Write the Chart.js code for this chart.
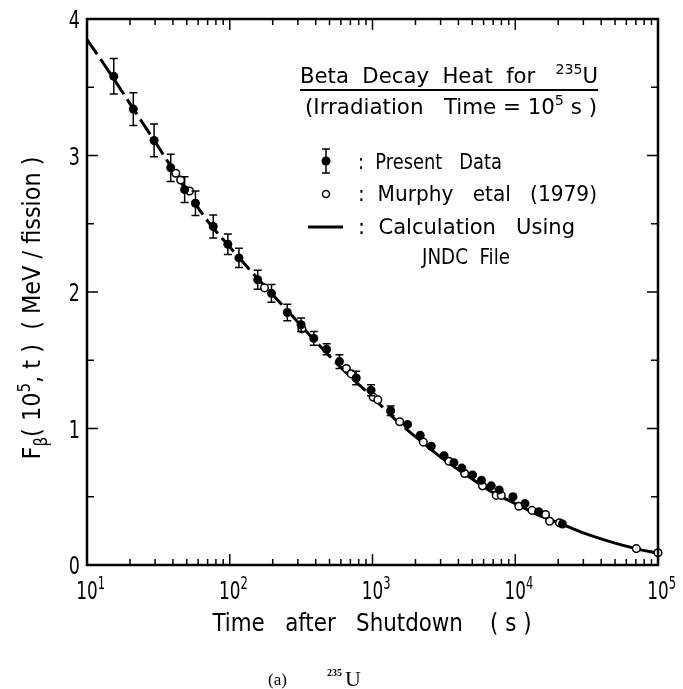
<!DOCTYPE html>
<html>
<head>
<meta charset="utf-8">
<script src="https://cdn.jsdelivr.net/npm/chart.js@4.4.1/dist/chart.umd.min.js"></script>
<style>
    html, body { margin: 0; padding: 0; background: #fff; }
    #wrap { width: 683px; height: 689px; }
</style>
</head>
<body>
<div id="wrap"><canvas id="heatChart" width="683" height="689"></canvas></div>
<script>
// Present data (filled circles with error bars)
const presentTime = [15.4, 21.1, 29.5, 38.6, 48.3, 57.5, 76.6, 97, 116, 157, 196, 253, 316, 388, 477, 587, 769, 977, 1340,
    1760, 2160, 2580, 3170, 3720, 4220, 5020, 5800, 6790, 7720, 9640, 11700, 14600, 21400];
const presentHeat = [3.58, 3.34, 3.11, 2.91, 2.75, 2.65, 2.48, 2.35, 2.25, 2.09, 1.99, 1.85, 1.76, 1.66, 1.58, 1.49, 1.37, 1.28, 1.13,
    1.03, 0.95, 0.87, 0.80, 0.75, 0.71, 0.66, 0.62, 0.58, 0.55, 0.50, 0.45, 0.39, 0.30];
const presentErr = [0.13, 0.12, 0.12, 0.10, 0.095, 0.09, 0.085, 0.075, 0.07, 0.07, 0.065, 0.06, 0.05, 0.05, 0.04, 0.05, 0.05, 0.04, 0.035,
    0, 0, 0, 0, 0, 0, 0, 0, 0, 0, 0, 0, 0, 0];

// Murphy et al (1979) (open circles)
const murphyTime = [41.9, 45.3, 52.3, 175, 320, 656, 710, 1010, 1090, 1550, 2270, 3430, 4420, 5890, 7360, 7980,
    10600, 13100, 16300, 17400, 20400, 70500, 100000];
const murphyHeat = [2.87, 2.82, 2.74, 2.03, 1.73, 1.44, 1.40, 1.23, 1.21, 1.05, 0.90, 0.76, 0.67, 0.58, 0.51, 0.51,
    0.43, 0.40, 0.37, 0.32, 0.31, 0.12, 0.09];

// Calculation using JNDC file
const calcTime = [10, 15, 20, 30, 50, 70, 100, 150, 200, 300, 500, 700, 1000, 1500, 2000, 3000, 5000, 7000,
    10000, 15000, 20000, 30000, 50000, 70000, 100000];
const calcHeat = [3.85, 3.58, 3.38, 3.10, 2.74, 2.52, 2.33, 2.12, 1.98, 1.78, 1.53, 1.38, 1.23, 1.05, 0.94, 0.79, 0.63, 0.53,
    0.45, 0.36, 0.31, 0.235, 0.16, 0.12, 0.085];

// Axis ticks
const xDecades = [10, 100, 1000, 10000, 100000];
const xExponents = ["1", "2", "3", "4", "5"];
const yTicks = [0, 1, 2, 3, 4];

const FONT = '"Liberation Sans Narrow", "DejaVu Sans Condensed", "DejaVu Sans", sans-serif';

// Draws text pieces ([text, "n" | "sup" | "sub"]); squeezed to a width or by a fixed factor
function drawRich(ctx, parts, x, y, size, opts = {}) {
    const family = opts.family || FONT;
    const fontFor = (kind) => `${kind === "n" ? size : Math.round(size * 0.66)}px ${family}`;
    let natural = 0;
    parts.forEach(([t, kind]) => {
        ctx.font = fontFor(kind);
        natural += ctx.measureText(t).width;
    });
    const k = opts.width ? opts.width / natural : (opts.scaleX || 1);
    ctx.save();
    ctx.translate(x, y);
    if (opts.rotate) ctx.rotate(opts.rotate);
    ctx.scale(k, 1);
    let cx = 0;
    if (opts.align === "center") cx = -natural / 2;
    if (opts.align === "right") cx = -natural;
    ctx.fillStyle = "#000";
    ctx.textAlign = "left";
    ctx.textBaseline = "alphabetic";
    parts.forEach(([t, kind]) => {
        ctx.font = fontFor(kind);
        const dy = kind === "sup" ? -size * 0.42 : kind === "sub" ? size * 0.28 : 0;
        ctx.fillText(t, cx, dy);
        cx += ctx.measureText(t).width;
    });
    ctx.restore();
}

const toPoints = (xs, ys) => xs.map((x, i) => ({ x: x, y: ys[i] }));

document.addEventListener("DOMContentLoaded", () => {
    const ctx = document.getElementById("heatChart").getContext("2d");

    // Frame, inward ticks, labels, error bars and the legend box
    const decorations = {
        id: "decorations",
        afterDatasetsDraw(chart) {
            const c = chart.ctx;
            const xs = chart.scales.x;
            const ys = chart.scales.y;
            c.save();
            c.strokeStyle = "#000";
            c.lineWidth = 1.5;
            presentTime.forEach((t, i) => {
                if (!presentErr[i]) return;
                const px = xs.getPixelForValue(t);
                const top = ys.getPixelForValue(presentHeat[i] + presentErr[i]);
                const bot = ys.getPixelForValue(presentHeat[i] - presentErr[i]);
                c.beginPath();
                c.moveTo(px, top); c.lineTo(px, bot);
                c.moveTo(px - 4, top); c.lineTo(px + 4, top);
                c.moveTo(px - 4, bot); c.lineTo(px + 4, bot);
                c.stroke();
            });
            c.restore();
        },
        afterDraw(chart) {
            const c = chart.ctx;
            const a = chart.chartArea;
            const xs = chart.scales.x;
            const ys = chart.scales.y;
            c.save();
            c.strokeStyle = "#000";
            c.fillStyle = "#000";

            // frame
            c.lineWidth = 2.5;
            c.strokeRect(a.left, a.top, a.right - a.left, a.bottom - a.top);

            // log ticks on bottom and top
            c.lineWidth = 1.5;
            c.beginPath();
            xDecades.forEach((d, i) => {
                const steps = i < xDecades.length - 1 ? [1, 2, 3, 4, 5, 6, 7, 8, 9] : [1];
                steps.forEach((m) => {
                    const px = xs.getPixelForValue(d * m);
                    const len = m === 1 ? 11 : 6;
                    c.moveTo(px, a.bottom); c.lineTo(px, a.bottom - len);
                    c.moveTo(px, a.top); c.lineTo(px, a.top + len);
                });
            });
            // half-unit ticks on left and right
            for (let v = 0; v <= 4; v += 0.5) {
                const py = ys.getPixelForValue(v);
                const len = Number.isInteger(v) ? 11 : 7;
                c.moveTo(a.left, py); c.lineTo(a.left + len, py);
                c.moveTo(a.right, py); c.lineTo(a.right - len, py);
            }
            c.stroke();

            // y tick labels
            yTicks.forEach((v) => {
                drawRich(c, [[String(v), "n"]], a.left - 7, ys.getPixelForValue(v) + 9, 25, { align: "right", scaleX: 0.78 });
            });

            // x tick labels, "10" centred on the tick with a raised exponent
            xDecades.forEach((d, i) => {
                const px = xs.getPixelForValue(d);
                c.font = `25px ${FONT}`;
                const w = c.measureText("10").width * 0.75;
                drawRich(c, [["10", "n"], [xExponents[i], "sup"]], px - w / 2, a.bottom + 34, 25, { scaleX: 0.75 });
            });

            // axis titles
            drawRich(c, [["Time   after   Shutdown    ( s )", "n"]], 372, a.bottom + 66, 24, { align: "center", width: 319 });
            drawRich(c, [["F", "n"], ["β", "sub"], ["( 10", "n"], ["5", "sup"], [", t )  ( MeV / fission )", "n"]],
                40, 308, 25, { align: "center", width: 303, rotate: -Math.PI / 2 });

            // caption below the plot
            drawRich(c, [["(a)", "n"]], 268, 685, 17, { family: '"Liberation Serif", serif' });
            c.font = 'bold 10px "Liberation Serif", serif';
            c.textAlign = "left";
            c.textBaseline = "alphabetic";
            c.fillText("235", 327, 676);
            c.font = '22px "Liberation Serif", serif';
            c.fillText("U", 345, 686);

            // legend box
            drawRich(c, [["Beta  Decay  Heat  for   ", "n"], ["235", "sup"], ["U", "n"]], 300, 83, 21, { width: 298 });
            c.lineWidth = 2;
            c.beginPath();
            c.moveTo(300, 90); c.lineTo(598, 90);
            c.stroke();
            drawRich(c, [["(Irradiation   Time = 10", "n"], ["5", "sup"], [" s )", "n"]], 305, 114, 21, { width: 292 });

            // present data symbol
            c.lineWidth = 1.5;
            c.beginPath();
            c.moveTo(326, 149); c.lineTo(326, 173);
            c.moveTo(322, 149); c.lineTo(330, 149);
            c.moveTo(322, 173); c.lineTo(330, 173);
            c.stroke();
            c.beginPath();
            c.arc(326, 161, 4.5, 0, Math.PI * 2);
            c.fill();
            drawRich(c, [[":  Present   Data", "n"]], 358, 169, 21, { width: 144 });

            // murphy symbol
            c.beginPath();
            c.arc(326, 194, 3.5, 0, Math.PI * 2);
            c.fillStyle = "#fff";
            c.fill();
            c.stroke();
            c.fillStyle = "#000";
            drawRich(c, [[":  Murphy   etal   (1979)", "n"]], 358, 201, 21, { width: 239 });

            // calculation symbol
            c.lineWidth = 3;
            c.beginPath();
            c.moveTo(308, 227); c.lineTo(343, 227);
            c.stroke();
            drawRich(c, [[":  Calculation   Using", "n"]], 358, 234, 21, { width: 217 });
            drawRich(c, [["JNDC  File", "n"]], 422, 264, 21, { width: 88 });

            c.restore();
        },
    };

    new Chart(ctx, {
        type: "scatter",
        data: {
            datasets: [
                {
                    label: "Present Data",
                    data: toPoints(presentTime, presentHeat),
                    backgroundColor: "#000",
                    borderColor: "#000",
                    pointRadius: 4.5,
                    borderWidth: 0,
                    clip: false,
                },
                {
                    label: "Murphy etal (1979)",
                    data: toPoints(murphyTime, murphyHeat),
                    backgroundColor: "#fff",
                    borderColor: "#000",
                    borderWidth: 1.5,
                    pointRadius: 3.8,
                    clip: false,
                },
                {
                    label: "Calculation Using JNDC File",
                    type: "line",
                    data: toPoints(calcTime, calcHeat),
                    borderColor: "#000",
                    borderWidth: 3,
                    pointRadius: 0,
                    cubicInterpolationMode: "monotone",
                    segment: {
                        borderDash: (s) => (s.p1.parsed.x <= 2400 ? [18, 6] : undefined),
                    },
                },
            ],
        },
        options: {
            responsive: false,
            animation: false,
            devicePixelRatio: 1,
            layout: { padding: { left: 79, right: 25, top: 19, bottom: 116 } },
            plugins: {
                legend: { display: false },
                tooltip: { enabled: false },
            },
            scales: {
                x: {
                    type: "logarithmic",
                    min: 10,
                    max: 100000,
                    grid: { display: false },
                    ticks: { display: false },
                    border: { display: false },
                },
                y: {
                    type: "linear",
                    min: 0,
                    max: 4,
                    grid: { display: false },
                    ticks: { display: false },
                    border: { display: false },
                },
            },
        },
        plugins: [decorations],
    });
});
</script>
</body>
</html>
